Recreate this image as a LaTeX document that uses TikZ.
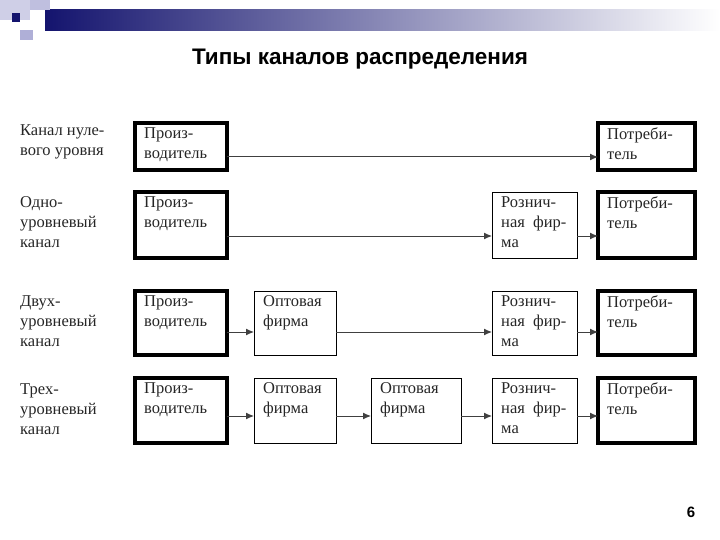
\documentclass[tikz,border=0pt]{standalone}
\usepackage{fontspec}
\setmainfont{Liberation Serif}
\newfontfamily\titlefont{Liberation Sans}
\usetikzlibrary{arrows.meta}
\definecolor{navy}{RGB}{20,20,110}
\definecolor{lav}{RGB}{175,175,215}
\begin{document}
\begin{tikzpicture}[x=1pt,y=-1pt,
  thickbox/.style={draw, line width=3.5pt},
  thinbox/.style={draw, line width=0.8pt},
  txt/.style={font=\fontsize{16.5}{20}\selectfont, align=left, anchor=north west, inner sep=0pt, text=black!85},
  arr/.style={-{Latex[length=8pt,width=7pt]}, line width=1pt, draw=black!75}]
\useasboundingbox (0,0) rectangle (720,540);
\fill[white] (0,0) rectangle (720,540);
% decoration
\shade[left color=navy, right color=white] (45,10) rectangle (720,31);
\fill[lav!60] (0,0) rectangle (30,20);
\fill[lav!80] (30,0) rectangle (50,10);
\fill[lav] (20,30) rectangle (33,40);
\fill[navy] (12,13) rectangle (20,22);
\node[font=\titlefont\bfseries\fontsize{22.5}{26}\selectfont] (title) at (360,59) {Типы каналов распределения};
\node[font=\titlefont\bfseries\fontsize{15}{18}\selectfont] (pg) at (691,512) {6};
% left labels
\node[txt] (l1) at (20,124) {Канал нуле-\\вого уровня};
\node[txt] (l2) at (20,196) {Одно-\\уровневый\\канал};
\node[txt] (l3) at (20,295) {Двух-\\уровневый\\канал};
\node[txt] (l4) at (20,383) {Трех-\\уровневый\\канал};
\newcommand{\bx}[7]{% name style x1 y1 x2 y2 text
  \draw[#2] (#3,#4) rectangle (#5,#6);
  \node[txt] (#1) at ([xshift=9pt,yshift=-4pt]#3,#4) {#7};}
% row1
\bx{p1}{thickbox}{135}{123}{227}{170}{Произ-\\водитель}
\bx{c1}{thickbox}{598}{123}{695}{170}{Потреби-\\тель}
\draw[arr] (227,157) -- (598,157);
% row2
\bx{p2}{thickbox}{135}{192}{227}{258}{Произ-\\водитель}
\bx{r2}{thinbox}{492}{192}{577}{258}{Рознич-\\ная\ \ фир-\\ма}
\bx{c2}{thickbox}{598}{192}{695}{258}{Потреби-\\тель}
\draw[arr] (227,236) -- (492,236);
\draw[arr] (577,236) -- (598,236);
% row3
\bx{p3}{thickbox}{135}{291}{227}{355}{Произ-\\водитель}
\bx{w3}{thinbox}{254}{291}{336}{355}{Оптовая\\фирма}
\bx{r3}{thinbox}{492}{291}{577}{355}{Рознич-\\ная\ \ фир-\\ма}
\bx{c3}{thickbox}{598}{291}{695}{355}{Потреби-\\тель}
\draw[arr] (227,332) -- (254,332);
\draw[arr] (336,332) -- (492,332);
\draw[arr] (577,332) -- (598,332);
% row4
\bx{p4}{thickbox}{135}{378}{227}{443}{Произ-\\водитель}
\bx{w4}{thinbox}{254}{378}{336}{443}{Оптовая\\фирма}
\bx{x4}{thinbox}{371}{378}{461}{443}{Оптовая\\фирма}
\bx{r4}{thinbox}{492}{378}{577}{443}{Рознич-\\ная\ \ фир-\\ма}
\bx{c4}{thickbox}{598}{378}{695}{443}{Потреби-\\тель}
\draw[arr] (227,416) -- (254,416);
\draw[arr] (336,416) -- (371,416);
\draw[arr] (461,416) -- (492,416);
\draw[arr] (577,416) -- (598,416);
\end{tikzpicture}
\end{document}
